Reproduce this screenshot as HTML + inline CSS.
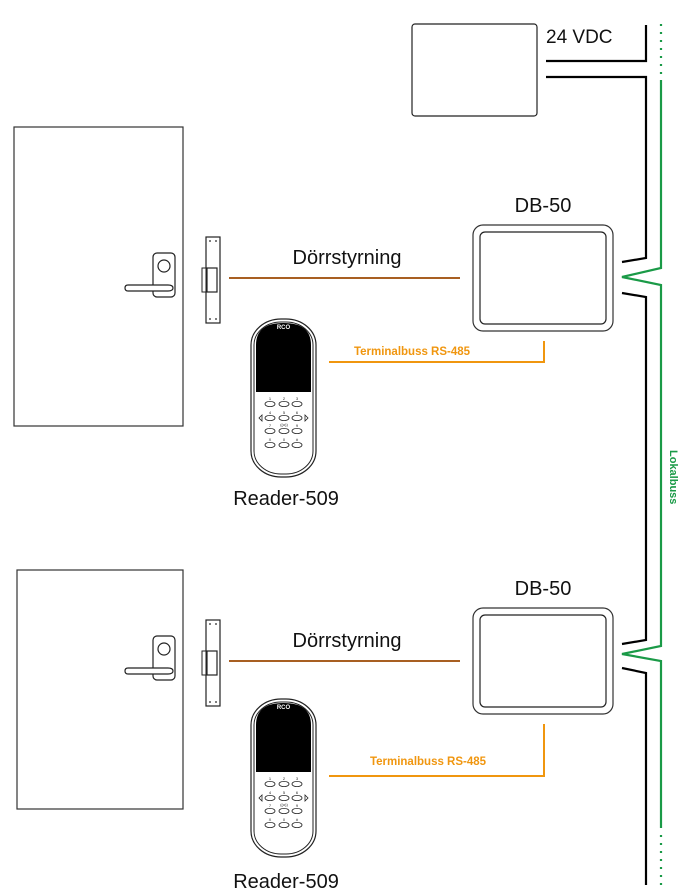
<!DOCTYPE html>
<html><head><meta charset="utf-8"><style>
html,body{margin:0;padding:0;background:#fff;width:688px;height:893px;overflow:hidden}
svg{display:block}
text{font-family:"Liberation Sans","DejaVu Sans",sans-serif}
</style></head><body>
<svg width="688" height="893" viewBox="0 0 688 893" xmlns="http://www.w3.org/2000/svg">
<defs>
<g id="reader">
  <rect x="251" y="319" width="65" height="158" rx="30" ry="26" fill="#fff" stroke="#222" stroke-width="1.2"/>
  <rect x="254" y="322" width="59" height="152" rx="27" ry="23" fill="none" stroke="#222" stroke-width="1"/>
  <path d="M256 392 V345 Q256 323 283.5 323 Q311 323 311 345 V392 Z" fill="#000"/>
  <text x="283.5" y="329" font-size="6" font-weight="bold" fill="#fff" text-anchor="middle">RCO</text>
  <g fill="none" stroke="#222" stroke-width="0.8">
    <ellipse cx="270" cy="404" rx="5" ry="2.6"/><ellipse cx="284" cy="404" rx="5" ry="2.6"/><ellipse cx="297" cy="404" rx="5" ry="2.6"/>
    <ellipse cx="270" cy="418" rx="5" ry="2.6"/><ellipse cx="284" cy="418" rx="5" ry="2.6"/><ellipse cx="297" cy="418" rx="5" ry="2.6"/>
    <ellipse cx="270" cy="431" rx="5" ry="2.6"/><ellipse cx="284" cy="431" rx="5" ry="2.6"/><ellipse cx="297" cy="431" rx="5" ry="2.6"/>
    <ellipse cx="270" cy="445" rx="5" ry="2.6"/><ellipse cx="284" cy="445" rx="5" ry="2.6"/><ellipse cx="297" cy="445" rx="5" ry="2.6"/>
    <path d="M262 415 L259 418 L262 421 Z M305 415 L308 418 L305 421 Z"/>
  </g>
  <g font-size="4" fill="#222" text-anchor="middle">
    <text x="270" y="400">1</text><text x="284" y="400">2</text><text x="297" y="400">3</text>
    <text x="270" y="414">4</text><text x="284" y="414">5</text><text x="297" y="414">6</text>
    <text x="270" y="427">7</text><text x="284" y="426">((o))</text><text x="297" y="427">9</text>
    <text x="270" y="441">X</text><text x="284" y="441">0</text><text x="297" y="441">#</text>
  </g>
</g>
<g id="lock">
  <rect x="153" y="253" width="22" height="44" rx="4" fill="#fff" stroke="#222" stroke-width="1.2"/>
  <circle cx="164" cy="266" r="6" fill="none" stroke="#222" stroke-width="1.2"/>
  <path d="M128 285 H168 Q173 285 173 288 Q173 291 168 291 H128 Q125 291 125 288 Q125 285 128 285 Z" fill="#fff" stroke="#222" stroke-width="1.2"/>
  <rect x="206" y="237" width="14" height="86" fill="#fff" stroke="#222" stroke-width="1.2"/>
  <rect x="202" y="268" width="4" height="24" fill="#fff" stroke="#222" stroke-width="1"/>
  <rect x="207" y="268" width="10" height="24" fill="#fff" stroke="#222" stroke-width="1.2"/>
  <g fill="#222"><circle cx="210" cy="241" r="0.9"/><circle cx="216" cy="241" r="0.9"/><circle cx="210" cy="319" r="0.9"/><circle cx="216" cy="319" r="0.9"/></g>
</g>
<g id="db">
  <rect x="473" y="225" width="140" height="106" rx="10" fill="#fff" stroke="#333" stroke-width="1.2"/>
  <rect x="480" y="232" width="126" height="92" rx="5" fill="#fff" stroke="#222" stroke-width="1.2"/>
  <text x="543" y="212" font-size="20" text-anchor="middle" fill="#111">DB-50</text>
</g>
</defs>

<rect x="412" y="24" width="125" height="92" rx="3" fill="#fff" stroke="#222" stroke-width="1.2"/>
<text x="546" y="43" font-size="19" fill="#111">24 VDC</text>
<g fill="none" stroke="#000" stroke-width="2.2">
  <path d="M546 61 H646 V25"/>
  <path d="M546 77 H646 V258 L622 262"/>
  <path d="M622 293 L646 297 V640 L622 644"/>
  <path d="M622 668 L646 673 V885"/>
</g>
<g fill="none" stroke="#1a9a47" stroke-width="2.2">
  <path d="M661 80 V268 L622 277 L661 285 V646 L622 654 L661 661 V828"/>
  <path d="M661 24 V76" stroke-dasharray="2 6"/>
  <path d="M661 835 V888" stroke-dasharray="2 6"/>
</g>
<text transform="translate(670,450) rotate(90)" font-size="11" font-weight="bold" fill="#1a9a47">Lokalbuss</text>

<rect x="14" y="127" width="169" height="299" fill="#fff" stroke="#333" stroke-width="1.2"/>
<use href="#lock"/>
<use href="#reader"/>
<use href="#db"/>
<line x1="229" y1="278" x2="460" y2="278" stroke="#a85f22" stroke-width="2"/>
<text x="347" y="264" font-size="20" text-anchor="middle" fill="#111">Dörrstyrning</text>
<path d="M544 341 V362 H329" fill="none" stroke="#f0960f" stroke-width="2"/>
<text x="412" y="355" font-size="11.5" font-weight="bold" text-anchor="middle" fill="#f0960f">Terminalbuss RS-485</text>
<text x="286" y="505" font-size="20" text-anchor="middle" fill="#111">Reader-509</text>

<rect x="17" y="570" width="166" height="239" fill="#fff" stroke="#333" stroke-width="1.2"/>
<g transform="translate(0,383)"><use href="#lock"/><use href="#db"/></g>
<g transform="translate(0,380)"><use href="#reader"/></g>
<line x1="229" y1="661" x2="460" y2="661" stroke="#a85f22" stroke-width="2"/>
<text x="347" y="647" font-size="20" text-anchor="middle" fill="#111">Dörrstyrning</text>
<path d="M544 724 V776 H329" fill="none" stroke="#f0960f" stroke-width="2"/>
<text x="428" y="765" font-size="11.5" font-weight="bold" text-anchor="middle" fill="#f0960f">Terminalbuss RS-485</text>
<text x="286" y="888" font-size="20" text-anchor="middle" fill="#111">Reader-509</text>
</svg>
</body></html>
